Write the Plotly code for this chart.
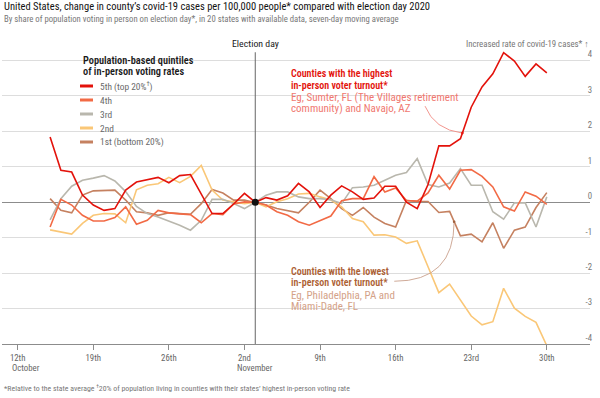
import pandas as pd
import plotly.graph_objects as go

# ---------------- data ----------------
dates = pd.date_range("2020-10-15", "2020-11-30", freq="D")

q5_top = [1.84, 0.9, 0.85, 0.2, -0.08, -0.23, -0.18, 0.34, 0.57, 0.64,
          0.7, 0.55, 0.75, 0.78, 0.23, -0.32, -0.32, -0.05, 0.25, 0.0,
          0.13, 0.06, 0.18, 0.53, 0.29, -0.15, 0.2, 0.46, 0.29, 0.08,
          0.12, 0.45, 0.45, 0.0, -0.18, 0.5, 1.59, 1.59, 1.79, 2.68,
          3.25, 3.62, 4.22, 3.98, 3.55, 3.9, 3.65]
q4 = [-0.7, 0.08, -0.08, -0.37, -0.53, -0.53, -0.43, -0.13, -0.62, -0.51,
      -0.23, -0.3, -0.33, -0.35, -0.58, -0.32, -0.35, -0.05, 0.01, 0.0,
      -0.08, -0.27, -0.37, -0.55, -0.65, -0.53, -0.39, 0.04, 0.1, 0.1,
      0.72, 0.29, 0.4, 0.05, 0.03, 0.26, 0.76, 0.37, 0.9, 0.92,
      0.73, 0.43, -0.13, -0.25, 0.29, 0.17, -0.06]
q3 = [-0.5, 0.1, 0.45, 0.62, 0.68, 0.75, 0.6, 0.3, -0.12, -0.32,
      -0.42, -0.53, -0.65, -0.79, -0.51, 0.08, 0.08, -0.04, -0.18, 0.0,
      0.2, 0.29, 0.29, 0.15, 0.1, 0.1, 0.07, -0.04, 0.41, 0.43,
      0.48, 0.62, 0.76, 0.84, 1.23, 0.5, 0.43, 0.54, 0.95, 0.48,
      0.48, -0.27, -0.48, -0.02, -0.02, -0.7, 0.15]
q2 = [-0.78, -0.84, -0.9, -0.6, -0.37, -0.32, -0.33, -0.58, 0.35, 0.48,
      0.52, 0.7, 0.55, 0.73, 1.04, 0.34, 0.06, 0.01, -0.04, 0.0,
      -0.13, 0.01, 0.1, 0.23, 0.25, 0.15, 0.06, -0.13, -0.46, -0.55,
      -0.93, -0.92, -0.98, -1.16, -1.09, -1.82, -2.55, -2.31, -2.76, -3.21,
      -3.46, -3.37, -2.43, -2.99, -3.22, -3.39, -4.05]
q1_bottom = [0.1, -0.23, -0.3, 0.2, 0.32, 0.34, 0.34, 0.06, -0.27, -0.3,
             -0.37, -0.3, -0.32, -0.34, -0.04, 0.36, 0.26, 0.06, 0.06, 0.0,
             -0.08, -0.18, -0.25, -0.3, 0.0, 0.34, 0.1, -0.18, -0.37, -0.15,
             -0.42, -0.6, -0.7, 0.05, 0.02, 0.02, -0.29, -0.26, -0.95, -0.9,
             -1.12, -0.58, -1.3, -0.79, -0.7, -0.15, 0.27]

series_names = ["5th (top 20%<sup>†</sup>)", "4th", "3rd", "2nd", "1st (bottom 20%)"]
series_values = [q5_top, q4, q3, q2, q1_bottom]
series_colors = ["#e3120b", "#f26a45", "#b9b7ad", "#fac777", "#c58160"]

tick_dates = ["2020-10-12", "2020-10-19", "2020-10-26", "2020-11-02",
              "2020-11-09", "2020-11-16", "2020-11-23", "2020-11-30"]
tick_labels = ["12th", "19th", "26th", "2nd", "9th", "16th", "23rd", "30th"]
ytick_vals = [-4, -3, -2, -1, 0, 1, 2, 3, 4]
ytick_text = ["-4", "-3", "-2", "-1", "0", "1", "2", "3", "4"]
election_day = "2020-11-03"

# ---------------- layout geometry ----------------
W, H = 600, 398
ML, MR, MT, MB = 2, 10, 48, 54
PW, PH = W - ML - MR, H - MT - MB
FONT = "Liberation Sans Narrow, Roboto Condensed, Roboto, sans-serif"


def px(x):
    return (x - ML) / PW


def py(y):
    return (H - MB - y) / PH


fig = go.Figure()

# draw bottom quintile first so the top quintile sits on top
for name, vals, col in reversed(list(zip(series_names, series_values, series_colors))):
    fig.add_trace(go.Scatter(x=dates, y=vals, mode="lines", name=name,
                             line=dict(color=col, width=1.6), showlegend=False,
                             hoverinfo="skip"))

# election-day point
fig.add_trace(go.Scatter(x=[election_day], y=[0], mode="markers",
                         marker=dict(color="#111111", size=7), showlegend=False,
                         hoverinfo="skip"))

shapes = []
annotations = []

# election day vertical line
shapes.append(dict(type="line", xref="x", yref="y", x0=election_day, x1=election_day,
                   y0=-4, y1=4.23, line=dict(color="#666666", width=1), layer="between"))

# white masks behind legend and annotations (hide gridlines)
for (x0, x1, y0, y1) in [(74, 187, 52, 150), (286, 440, 66, 114), (283, 394, 264, 315)]:
    shapes.append(dict(type="rect", xref="paper", yref="paper",
                       x0=px(x0), x1=px(x1), y0=py(y1), y1=py(y0),
                       fillcolor="white", line=dict(width=0), layer="between"))

# legend title
annotations.append(dict(xref="paper", yref="paper", x=px(81), y=py(60), xanchor="left",
                        yanchor="middle", showarrow=False,
                        text="Population-based quintiles",
                        font=dict(family=FONT, size=10.3, color="#1a1a1a", weight=600)))
annotations.append(dict(xref="paper", yref="paper", x=px(81), y=py(72), xanchor="left",
                        yanchor="middle", showarrow=False,
                        text="of in-person voting rates",
                        font=dict(family=FONT, size=10.3, color="#1a1a1a", weight=600)))
legend_y = [86, 100, 114, 128, 142]
for name, col, ly in zip(series_names, series_colors, legend_y):
    shapes.append(dict(type="line", xref="paper", yref="paper", x0=px(80), x1=px(93),
                       y0=py(ly), y1=py(ly), line=dict(color=col, width=3)))
    annotations.append(dict(xref="paper", yref="paper", x=px(98), y=py(ly), xanchor="left",
                            yanchor="middle", showarrow=False, text=name,
                            font=dict(family=FONT, size=9.4, color="#6a6a6a")))

# highest / lowest turnout annotations
hi_lines = [("Counties with the highest", "#e3120b", 600, 10, 73.5),
            ("in-person voter turnout*", "#e3120b", 600, 10, 85),
            ("Eg, Sumter, FL (The Villages retirement", "#f07870", 400, 11, 97),
            ("community) and Navajo, AZ", "#f07870", 400, 11, 108.5)]
lo_lines = [("Counties with the lowest", "#ad5f34", 600, 10, 271.5),
            ("in-person voter turnout*", "#ad5f34", 600, 10, 282.5),
            ("Eg, Philadelphia, PA and", "#d4a288", 400, 11, 295.5),
            ("Miami-Dade, FL", "#d4a288", 400, 11, 306.5)]
for txt, col, wt, sz, yy in hi_lines + lo_lines:
    annotations.append(dict(xref="paper", yref="paper", x=px(289), y=py(yy), xanchor="left",
                            yanchor="middle", showarrow=False, text=txt,
                            font=dict(family=FONT, size=sz, color=col, weight=wt)))

# connectors
shapes.append(dict(type="path", xref="x", yref="y",
                   path="M2020-11-18_17:20,2.71 Q2020-11-19_14:00,2.05 2020-11-22_04:20,1.95",
                   line=dict(color="#f08a82", width=0.9)))
shapes.append(dict(type="path", xref="x", yref="y",
                   path="M2020-11-15_21:00,-2.23 Q2020-11-21_10:00,-2.23 2020-11-21_10:00,-0.55",
                   line=dict(color="#c9a08c", width=0.9)))
for dx, dy, col in [("2020-11-22 04:20", 1.95, "#e3120b"), ("2020-11-21 10:00", -0.55, "#a0603c")]:
    shapes.append(dict(type="circle", xref="x", yref="y", xsizemode="pixel", ysizemode="pixel",
                       xanchor=dx, yanchor=dy, x0=-1.3, x1=1.3, y0=-1.3, y1=1.3,
                       fillcolor=col, line=dict(width=0)))

# header texts
annotations.append(dict(xref="paper", yref="paper", x=px(2), y=py(7), xanchor="left",
                        yanchor="middle", showarrow=False,
                        text="United States, change in county’s covid-19 cases per 100,000 people* compared with election day 2020",
                        font=dict(family=FONT, size=10.5, color="#121212")))
annotations.append(dict(xref="paper", yref="paper", x=px(2), y=py(19), xanchor="left",
                        yanchor="middle", showarrow=False,
                        text="By share of population voting in person on election day*, in 20 states with available data, seven-day moving average",
                        font=dict(family=FONT, size=8.7, color="#777777")))
annotations.append(dict(xref="x", yref="paper", x=election_day, y=py(43.5), xanchor="center",
                        yanchor="middle", showarrow=False, text="Election day",
                        font=dict(family=FONT, size=9.8, color="#1a1a1a")))
annotations.append(dict(xref="paper", yref="paper", x=px(591), y=py(44.5), xanchor="right",
                        yanchor="middle", showarrow=False, text="Increased rate of covid-19 cases* ↑",
                        font=dict(family=FONT, size=8.8, color="#777777")))
annotations.append(dict(xref="paper", yref="paper", x=px(2), y=py(388), xanchor="left",
                        yanchor="middle", showarrow=False,
                        text="*Relative to the state average <sup>†</sup>20% of population living in counties with their states’ highest in-person voting rate",
                        font=dict(family=FONT, size=7.8, color="#777777")))
annotations.append(dict(xref="x", yref="paper", x="2020-10-11 07:00", y=py(368), xanchor="left",
                        yanchor="middle", showarrow=False, text="October",
                        font=dict(family=FONT, size=8.8, color="#666666")))
annotations.append(dict(xref="x", yref="paper", x="2020-11-01 04:00", y=py(368), xanchor="left",
                        yanchor="middle", showarrow=False, text="November",
                        font=dict(family=FONT, size=8.8, color="#666666")))

fig.update_layout(
    width=W, height=H,
    margin=dict(l=ML, r=MR, t=MT, b=MB, pad=0),
    paper_bgcolor="white", plot_bgcolor="white",
    font=dict(family=FONT, size=10, color="#666666"),
    shapes=shapes, annotations=annotations,
    xaxis=dict(type="date", range=["2020-10-10 13:06", "2020-12-04 00:00"],
               tickvals=tick_dates, ticktext=tick_labels, showgrid=False,
               ticks="outside", ticklen=5, tickcolor="#8c8c8c", tickwidth=1,
               showline=True, linecolor="#8c8c8c", linewidth=1,
               tickfont=dict(family=FONT, size=8.8, color="#666666"), zeroline=False),
    yaxis=dict(range=[-4, 4.35], side="right", tickvals=ytick_vals, ticktext=ytick_text,
               ticklabelposition="inside top", ticklabelstandoff=-5,
               showgrid=True, gridcolor="#dddddd",
               gridwidth=1, zeroline=True, zerolinecolor="#8c8c8c", zerolinewidth=1,
               ticks="", showline=False,
               tickfont=dict(family=FONT, size=8.8, color="#777777")),
)

fig.write_html("out.html", config={"displayModeBar": False},
               post_script="document.body.style.margin='0px';")
